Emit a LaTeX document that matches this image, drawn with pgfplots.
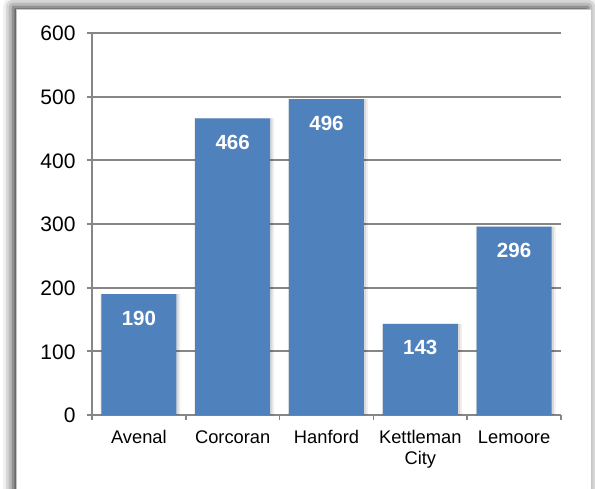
\documentclass[border=0pt]{standalone}
\usepackage{pgfplots}
\pgfplotsset{compat=1.18}
\usepackage{fontspec}
\setmainfont{Liberation Sans}
\usetikzlibrary{shadows.blur}
\definecolor{barblue}{HTML}{4F81BD}
\definecolor{gridgray}{HTML}{868686}

\begin{document}
\begin{tikzpicture}
\useasboundingbox (0pt,0pt) rectangle (595pt,488pt);
\clip (0pt,0pt) rectangle (595pt,488pt);
% chart frame with a soft shadow around it
\path[fill=white, draw=gray!45,
  blur shadow={shadow xshift=-3pt, shadow yshift=2pt, shadow blur radius=10pt, shadow opacity=85}]
  (16pt,-30pt) rectangle (591pt,479pt);
\begin{axis}[
  at={(92pt,73pt)}, anchor=south west,
  scale only axis, width=469pt, height=382pt,
  xmin=-0.5, xmax=4.5, ymin=0, ymax=600,
  ytick={0,100,...,600},
  xtick={-0.5,0.5,...,4.5},
  xticklabels={},
  extra x ticks={0,1,2,3,4},
  extra x tick labels={Avenal,Corcoran,Hanford,{Kettleman\\City},Lemoore},
  extra x tick style={major tick length=0pt,
    tick label style={align=center, font=\fontsize{18.3}{21.5}\selectfont, text=black, yshift=-9.5pt}},
  typeset ticklabels with strut,
  yticklabel style={font=\fontsize{21}{24}\selectfont, text=black, xshift=-8pt, yshift=-3pt},
  /pgf/number format/assume math mode=true,
  axis x line*=bottom, axis y line*=left,
  axis line style={gridgray, line width=1.7pt, -},
  ymajorgrids, grid style={gridgray, line width=1.7pt},
  major tick length=5pt,
  tick align=outside,
  tick style={gridgray, line width=1.7pt},
]
% soft shadow behind the bars
\addplot[ybar, bar width=80pt, bar shift=1.5pt, fill=black, fill opacity=0.06, draw=none]
  coordinates {(0,190) (1,466) (2,496) (3,143) (4,296)};
\addplot[ybar, bar width=77.5pt, bar shift=1pt, fill=black, fill opacity=0.09, draw=none]
  coordinates {(0,190) (1,466) (2,496) (3,143) (4,296)};
\addplot[ybar, bar width=75pt, fill=barblue, draw=none,
  nodes near coords,
  nodes near coords style={font=\fontsize{20.5}{24}\selectfont\bfseries, text=white, anchor=center, yshift=-24pt}]
  coordinates {(0,190) (1,466) (2,496) (3,143) (4,296)};
\end{axis}
\end{tikzpicture}
\end{document}
